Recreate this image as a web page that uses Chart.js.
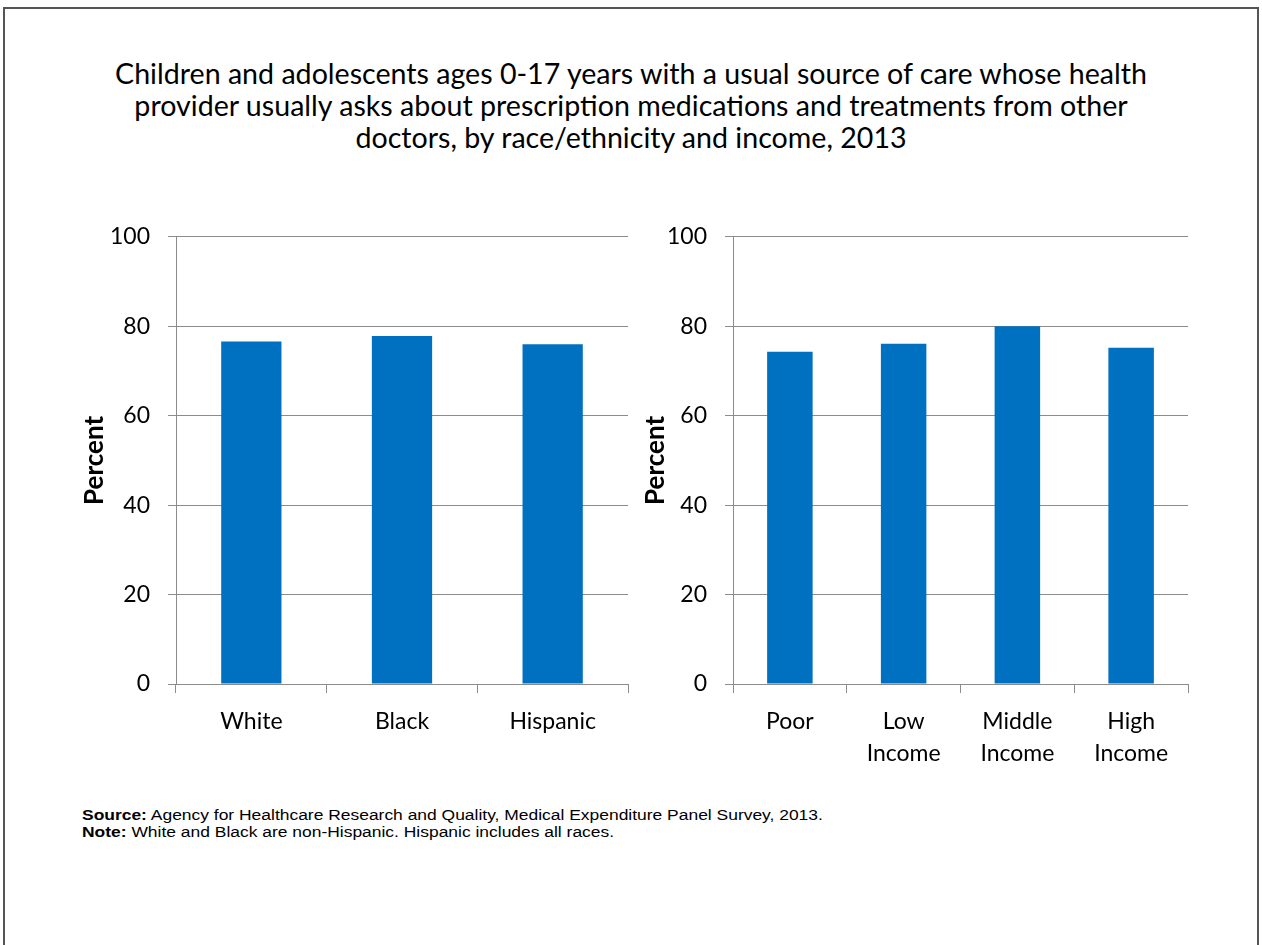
<!DOCTYPE html>
<html>
<head>
<meta charset="utf-8">
<script src="https://cdn.jsdelivr.net/npm/chart.js@4.4.1/dist/chart.umd.min.js"></script>
<style>
    body { margin: 0; background: #fff; width: 1262px; height: 945px; overflow: hidden; position: relative; }
    #frame { position: absolute; left: 3px; top: 7px; width: 1252px; height: 960px; border: 2px solid #555; }
    #title { position: absolute; left: 0; top: 57px; width: 1262px; text-align: center;
             font-family: Lato, "Open Sans", sans-serif; font-size: 28.6px; line-height: 32px; color: #000; }
    .wrap { position: absolute; top: 205px; height: 581px; }
    #footer { position: absolute; left: 82px; top: 806px; font-family: "Liberation Sans", Arial, sans-serif;
              font-size: 15.5px; line-height: 17px; color: #000; white-space: nowrap;
              transform: scaleX(1.125); transform-origin: left top; }
</style>
</head>
<body>
<div id="frame"></div>
<div id="title">Children and adolescents ages 0-17 years with a usual source of care whose health<br>provider usually asks about prescription medications and treatments from other<br>doctors, by race/ethnicity and income, 2013</div>
<div class="wrap" style="left:70px;width:570px;"><canvas id="raceChart" width="570" height="581"></canvas></div>
<div class="wrap" style="left:640px;width:560px;"><canvas id="incomeChart" width="560" height="581"></canvas></div>
<div id="footer"><b>Source:</b> Agency for Healthcare Research and Quality, Medical Expenditure Panel Survey, 2013.<br><b>Note:</b> White and Black are non-Hispanic. Hispanic includes all races.</div>
<script>
    // data
    const raceLabels = ["White", "Black", "Hispanic"];
    const raceValues = [76.6, 77.8, 76.0];
    const incomeLabels = ["Poor", ["Low", "Income"], ["Middle", "Income"], ["High", "Income"]];
    const incomeValues = [74.3, 76.1, 80.0, 75.2];
    const yTicks = [0, 20, 40, 60, 80, 100];

    const barColor = "#0070C0";
    const gridColor = "#8c8c8c";
    const fontFamily = "Lato, 'Open Sans', sans-serif";

    function makeChart(id, labels, values, yWidth, titlePad) {
        const ctx = document.getElementById(id).getContext("2d");
        return new Chart(ctx, {
            type: "bar",
            data: {
                labels: labels,
                datasets: [{
                    data: values,
                    backgroundColor: barColor,
                    borderWidth: 0,
                    barPercentage: 1,
                    categoryPercentage: 0.4
                }]
            },
            options: {
                responsive: false,
                animation: false,
                layout: { padding: { top: 10, right: 12, left: 0, bottom: 0 } },
                plugins: { legend: { display: false }, tooltip: { enabled: false } },
                scales: {
                    x: {
                        afterFit: s => { s.height = 102; },
                        grid: { offset: true, drawOnChartArea: false, drawTicks: true, tickLength: 9, color: gridColor },
                        border: { color: gridColor },
                        ticks: {
                            color: "#000", padding: 12,
                            font: { family: fontFamily, size: 23, lineHeight: 1.4 },
                            maxRotation: 0, autoSkip: false
                        }
                    },
                    y: {
                        min: 0, max: 100,
                        afterFit: s => { s.width = yWidth; },
                        afterBuildTicks: s => { s.ticks = yTicks.map(v => ({ value: v })); },
                        grid: { color: gridColor, tickLength: 8, lineWidth: 1 },
                        border: { color: gridColor },
                        ticks: { color: "#000", padding: 18, font: { family: fontFamily, size: 23 } },
                        title: {
                            display: true, text: "Percent", color: "#000",
                            font: { family: fontFamily, size: 26, weight: "bold" },
                            padding: { top: titlePad, bottom: 0 }
                        }
                    }
                }
            }
        });
    }

    makeChart("raceChart", raceLabels, raceValues, 106, 9);
    makeChart("incomeChart", incomeLabels, incomeValues, 93, 0);
</script>
</body>
</html>
